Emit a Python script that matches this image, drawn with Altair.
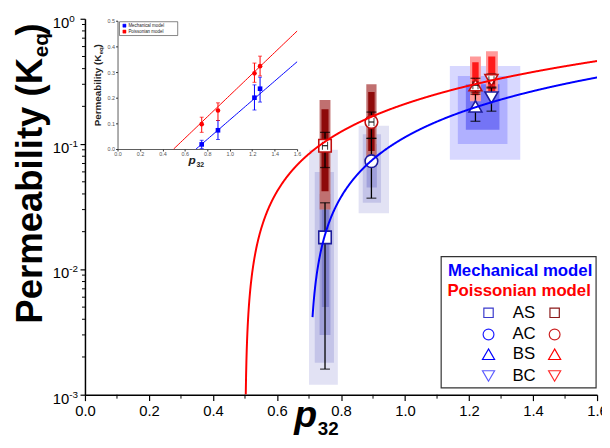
import altair as alt
import pandas as pd

# ---------------- data ----------------
groups = ["AS", "AC", "BS", "BC"]
p32 = [0.75, 0.895, 1.22, 1.27]
mech_k = [0.018, 0.073, 0.200, 0.235]
mech_lo = [0.0016, 0.037, 0.152, 0.183]
mech_hi = [0.034, 0.111, 0.250, 0.280]
pois_k = [0.097, 0.150, 0.295, 0.323]
pois_lo = [0.065, 0.111, 0.260, 0.285]
pois_hi = [0.124, 0.180, 0.335, 0.362]
pois_xerr = [0.008, 0.008, 0.008, 0.008]

# fitted lines  K = slope * (p32 - p0)
mech_slope, mech_p0, mech_start = 0.378, 0.70, 0.711
pois_slope, pois_p0, pois_start = 0.418, 0.50, 0.5024

# scatter clouds summarised as density bands
cloud_series = ["mA", "mA", "mA", "mA", "mA", "mA", "mA", "mB", "mB", "mB",
                "pA", "pA", "pA", "pA", "pB", "pB", "pB", "pB"]
cloud_level = ["outer", "mid", "core", "core2", "outer", "mid", "core", "outer", "mid", "core",
               "outer", "core", "outer", "core", "outer", "core", "outer", "core"]
cloud_x0 = [0.700, 0.718, 0.733, 0.740, 0.855, 0.868, 0.880, 1.140, 1.165, 1.190,
            0.733, 0.739, 0.879, 0.885, 1.203, 1.210, 1.253, 1.260]
cloud_x1 = [0.790, 0.778, 0.767, 0.762, 0.950, 0.925, 0.912, 1.360, 1.320, 1.295,
            0.767, 0.761, 0.911, 0.905, 1.237, 1.230, 1.290, 1.282]
cloud_y0 = [0.0012, 0.0018, 0.003, 0.005, 0.028, 0.034, 0.045, 0.075, 0.100, 0.130,
            0.030, 0.042, 0.075, 0.088, 0.220, 0.245, 0.250, 0.265]
cloud_y1 = [0.090, 0.060, 0.040, 0.030, 0.140, 0.120, 0.100, 0.420, 0.350, 0.300,
            0.225, 0.190, 0.300, 0.260, 0.500, 0.450, 0.550, 0.500]

x_ticks = [0.0, 0.2, 0.4, 0.6, 0.8, 1.0, 1.2, 1.4, 1.6]
x_minor = [0.1, 0.3, 0.5, 0.7, 0.9, 1.1, 1.3, 1.5]
y_ticks = [0.001, 0.01, 0.1, 1.0]
y_exp = ["-3", "-2", "-1", "0"]
y_minor = [m * d for d in (0.001, 0.01, 0.1) for m in range(2, 10)]
inset_x_ticks = x_ticks
inset_y_ticks = [0.0, 0.1, 0.2, 0.3, 0.4, 0.5]

pts = pd.DataFrame({"group": groups, "p": p32, "mk": mech_k, "mlo": mech_lo, "mhi": mech_hi,
                    "pk": pois_k, "plo": pois_lo, "phi": pois_hi, "pxe": pois_xerr})
clouds = pd.DataFrame({"series": cloud_series, "level": cloud_level, "x0": cloud_x0,
                       "x1": cloud_x1, "y0": cloud_y0, "y1": cloud_y1})
ylab = pd.DataFrame({"v": y_ticks, "e": y_exp})
yminor = pd.DataFrame({"v": y_minor})
xminor = pd.DataFrame({"v": x_minor})
dummy = pd.DataFrame({"a": [0]})

FONT = "Liberation Sans"

# ---------------- main scales / axes ----------------
x_scale = alt.Scale(domain=[0, 1.6], nice=False, zero=False)
y_scale = alt.Scale(type="log", domain=[0.001, 1], nice=False)
x_axis = alt.Axis(values=x_ticks, format=".1f", labelFontSize=15, labelFont=FONT, labelColor="black",
                  tickSize=6, tickColor="black", tickWidth=1.2, domainColor="black", domainWidth=1.5,
                  grid=False, title=None, labelPadding=3, labelFlush=False, labelOverlap=False)
y_axis = alt.Axis(values=y_ticks, labels=False, tickSize=5, tickColor="black", tickWidth=1.2,
                  domainColor="black", domainWidth=1.5, grid=False, title=None)


def X(f):
    return alt.X(f, type="quantitative", scale=x_scale, axis=x_axis)


def Y(f):
    return alt.Y(f, type="quantitative", scale=y_scale, axis=y_axis)


def txt(t, x, y, size, color="black", weight="normal", style="normal", align="left",
        baseline="alphabetic", angle=0):
    return alt.Chart(dummy).mark_text(text=t, fontSize=size, font=FONT, color=color, fontWeight=weight,
                                      fontStyle=style, align=align, baseline=baseline,
                                      angle=angle).encode(x=alt.value(x), y=alt.value(y))


def sym(shape, x, y, size, color, fill=None, sw=1.2):
    kw = dict(shape=shape, size=size, stroke=color, strokeWidth=sw, opacity=1)
    if fill:
        kw.update(filled=True, fill=fill)
    else:
        kw.update(filled=False)
    return alt.Chart(dummy).mark_point(**kw).encode(x=alt.value(x), y=alt.value(y))


base = alt.Chart(pts)

band_domain = ["mA_outer", "mA_mid", "mA_core", "mA_core2", "mB_outer", "mB_mid", "mB_core",
               "pA_outer", "pA_core", "pB_outer", "pB_core"]
band_range = ["#e2e2f4", "#c4c4e8", "#a0a0da", "#8282cc", "#d8d8ff", "#b0b0ff", "#7474f6",
              "#c07070", "#8e0a0a", "#ff9a9a", "#ff1a1a"]

cloud_layer = alt.Chart(clouds).transform_calculate(
    band="datum.series + '_' + datum.level").mark_rect(clip=True, opacity=1).encode(
    x=X("x0"), x2="x1", y=Y("y0"), y2="y1",
    color=alt.Color("band:N", scale=alt.Scale(domain=band_domain, range=band_range), legend=None),
)

err_m = base.mark_rule(color="black", strokeWidth=1.3).encode(x=X("p"), y=Y("mlo"), y2="mhi")
err_p = base.mark_rule(color="black", strokeWidth=1.3).encode(x=X("p"), y=Y("plo"), y2="phi")
caps = base.transform_fold(["mlo", "mhi", "plo", "phi"], as_=["which", "v"]).mark_tick(
    orient="horizontal", size=10, thickness=1.3, color="black").encode(x=X("p"), y=Y("v:Q"))

shape_enc = alt.Shape("group:N", scale=alt.Scale(domain=groups,
                                                 range=["square", "circle", "triangle-up", "triangle-down"]),
                      legend=None)
size_enc = alt.Size("group:N", scale=alt.Scale(domain=groups, range=[160, 175, 240, 240]), legend=None)

mk_m = base.mark_point(filled=True, fill="white", stroke="#1c1c9c", strokeWidth=1.6, opacity=1).encode(
    x=X("p"), y=Y("mk"), shape=shape_enc, size=size_enc)
mk_p = base.mark_point(filled=True, fill="white", stroke="#c01010", strokeWidth=1.6, opacity=1).encode(
    x=X("p"), y=Y("pk"), shape=shape_enc, size=size_enc)

xerr = base.transform_calculate(xlo="datum.p - datum.pxe", xhi="datum.p + datum.pxe")
xerr_rule = xerr.mark_rule(color="black", strokeWidth=1.1).encode(x=X("xlo:Q"), x2="xhi:Q", y=Y("pk"))
xerr_caps = xerr.transform_fold(["xlo", "xhi"], as_=["w", "xv"]).mark_tick(
    orient="vertical", size=8, thickness=1.1, color="black").encode(x=X("xv:Q"), y=Y("pk"))

curve_p = alt.Chart(alt.sequence(pois_start, 1.6005, 0.001, as_="p")).transform_calculate(
    K=f"{pois_slope}*(datum.p-{pois_p0})").mark_line(color="#ff0000", strokeWidth=2, clip=True).encode(
    x=X("p:Q"), y=Y("K:Q"))
curve_m = alt.Chart(alt.sequence(mech_start, 1.6005, 0.001, as_="p")).transform_calculate(
    K=f"{mech_slope}*(datum.p-{mech_p0})").mark_line(color="#0000ff", strokeWidth=2, clip=True).encode(
    x=X("p:Q"), y=Y("K:Q"))

minor_y = alt.Chart(yminor).mark_rule(color="black", strokeWidth=1).encode(
    x=alt.value(-3), x2=alt.value(0), y=Y("v"))
minor_x = alt.Chart(xminor).mark_rule(color="black", strokeWidth=1).encode(
    x=X("v"), y=alt.value(381), y2=alt.value(385))

ylab_10 = alt.Chart(ylab).mark_text(text="10", fontSize=15, font=FONT, align="right", baseline="middle",
                                    dy=4, color="black").encode(x=alt.value(-16), y=Y("v"))
ylab_e = alt.Chart(ylab).mark_text(fontSize=10, font=FONT, align="left", baseline="middle",
                                   dy=0, color="black").encode(x=alt.value(-16), y=Y("v"), text="e:N")

# titles
titles = [
    txt("Permeability (K", -44, 309, 37, weight="bold", angle=270),
    txt("eq", -37, 39, 21, weight="bold", angle=270),
    txt(")", -44, 17, 37, weight="bold", angle=270),
    txt("p", 212, 414, 38, weight="bold", style="italic"),
    txt("32", 236, 422, 19, weight="bold"),
]

# legend
legend_box = alt.Chart(dummy).mark_rect(fill="white", stroke="#333333", strokeWidth=1.2).encode(
    x=alt.value(361), x2=alt.value(518), y=alt.value(241), y2=alt.value(374))
legend_items = [
    txt("Mechanical model", 441, 261, 17, color="#0000ff", weight="bold", align="center"),
    txt("Poissonian model", 440, 281, 17, color="#ff0000", weight="bold", align="center"),
]
rows_y = [298, 320, 340, 362]
blue_cols = ["#3a3acc", "#2020ff", "#0000ff", "#5a5aff"]
red_cols = ["#8b1a1a", "#cc2020", "#ff0000", "#ff2a2a"]
shapes = ["square", "circle", "triangle-up", "triangle-down"]
sizes = [90, 120, 150, 150]
for g, yy, bc, rc, sh, sz in zip(groups, rows_y, blue_cols, red_cols, shapes, sizes):
    legend_items.append(txt(g, 445, yy, 17, align="center", baseline="middle"))
    legend_items.append(sym(sh, 409, yy, sz, bc))
    legend_items.append(sym(sh, 476, yy, sz, rc))

main = alt.layer(cloud_layer, err_m, err_p, caps, mk_m, mk_p, xerr_rule, xerr_caps, curve_p, curve_m,
                 minor_y, minor_x, ylab_10, ylab_e, *titles, legend_box, *legend_items)

# ---------------- inset ----------------
xi_scale = alt.Scale(domain=[0, 1.6], range=[33, 215], nice=False, zero=False)
yi_scale = alt.Scale(domain=[0, 0.5], range=[132, 2], nice=False, zero=False)
xi_axis = alt.Axis(orient="bottom", offset=-249, values=inset_x_ticks, format=".1f", labelFontSize=5.5,
                   labelFont=FONT, labelColor="#555555", tickSize=2, tickColor="#333333", domainColor="#333333",
                   domainWidth=0.8, grid=False, title=None, labelPadding=1, labelFlush=False)
yi_axis = alt.Axis(orient="left", offset=-33, values=inset_y_ticks, format=".1f", labelFontSize=5.5,
                   labelFont=FONT, labelColor="#555555", tickSize=2, tickColor="#333333", domainColor="#333333",
                   domainWidth=0.8, grid=False, title=None, labelPadding=1)


def XI(f):
    return alt.X(f, type="quantitative", scale=xi_scale, axis=xi_axis)


def YI(f):
    return alt.Y(f, type="quantitative", scale=yi_scale, axis=yi_axis)


iline_p = alt.Chart(alt.sequence(pois_p0, 1.6005, 0.02, as_="p")).transform_calculate(
    K=f"{pois_slope}*(datum.p-{pois_p0})").mark_line(color="#ff0000", strokeWidth=1).encode(
    x=XI("p:Q"), y=YI("K:Q"))
iline_m = alt.Chart(alt.sequence(mech_p0, 1.6005, 0.02, as_="p")).transform_calculate(
    K=f"{mech_slope}*(datum.p-{mech_p0})").mark_line(color="#0000ff", strokeWidth=1).encode(
    x=XI("p:Q"), y=YI("K:Q"))
ierr_m = base.mark_rule(color="#0000ff", strokeWidth=1).encode(x=XI("p"), y=YI("mlo"), y2="mhi")
ierr_p = base.mark_rule(color="#ff0000", strokeWidth=1).encode(x=XI("p"), y=YI("plo"), y2="phi")
icap_m = base.transform_fold(["mlo", "mhi"], as_=["w", "v"]).mark_tick(
    orient="horizontal", size=4, thickness=1, color="#0000ff").encode(x=XI("p"), y=YI("v:Q"))
icap_p = base.transform_fold(["plo", "phi"], as_=["w", "v"]).mark_tick(
    orient="horizontal", size=4, thickness=1, color="#ff0000").encode(x=XI("p"), y=YI("v:Q"))
ipt_m = base.mark_point(filled=True, shape="square", size=22, color="#0000ff", opacity=1).encode(
    x=XI("p"), y=YI("mk"))
ipt_p = base.mark_point(filled=True, shape="circle", size=22, color="#ff0000", opacity=1).encode(
    x=XI("p"), y=YI("pk"))

inset_titles = [
    txt("Permeability (K", 16, 109, 10, weight="bold", angle=270, color="#222222"),
    txt("eq", 18, 36, 6, weight="bold", angle=270, color="#222222"),
    txt(")", 16, 29, 10, weight="bold", angle=270, color="#222222"),
    txt("p", 105, 147, 12, weight="bold", style="italic", color="#222222"),
    txt("32", 113, 150, 7, weight="bold", color="#222222"),
]
ileg_box = alt.Chart(dummy).mark_rect(fill="white", stroke="#333333", strokeWidth=0.6).encode(
    x=alt.value(35), x2=alt.value(94), y=alt.value(3), y2=alt.value(17))
ileg = [
    ileg_box,
    sym("square", 40, 7, 10, "#0000ff", fill="#0000ff", sw=0.5),
    sym("square", 40, 13, 10, "#ff0000", fill="#ff0000", sw=0.5),
    txt("Mechanical model", 44, 7, 4.5, color="#222222", baseline="middle"),
    txt("Poissonian model", 44, 13, 4.5, color="#222222", baseline="middle"),
]

inset = alt.layer(iline_p, iline_m, ierr_m, ierr_p, icap_m, icap_p, ipt_m, ipt_p, *inset_titles, *ileg)

chart = alt.layer(main, inset).resolve_scale(x="independent", y="independent").properties(
    width=519, height=381,
    autosize=alt.AutoSizeParams(type="none"),
    padding={"left": 78, "top": 8, "right": 5, "bottom": 43},
    background="white",
).configure_view(stroke=None)

chart.save("out.html", embed_options={"renderer": "svg", "actions": False})
